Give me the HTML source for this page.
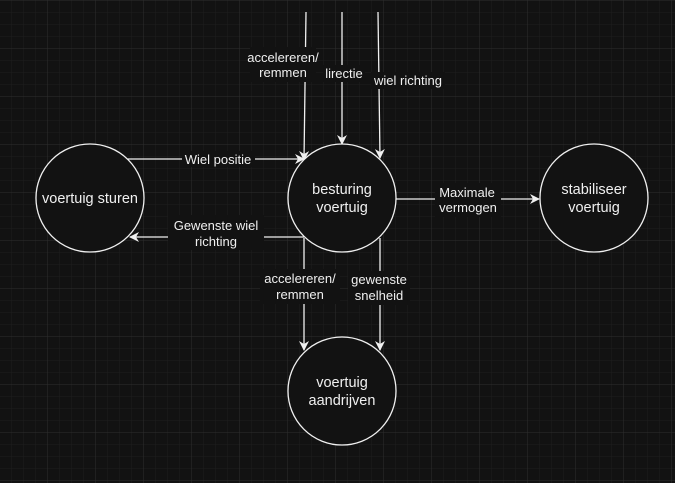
<!DOCTYPE html>
<html><head><meta charset="utf-8"><style>
html,body{margin:0;padding:0;background:#121212;}
svg{display:block;font-family:"Liberation Sans",Arial,sans-serif;}
</style></head><body>
<svg width="675" height="483" xmlns="http://www.w3.org/2000/svg">
<defs>
<pattern id="minor" width="12" height="12" patternUnits="userSpaceOnUse" x="-0.5" y="0.5">
<path d="M12 0V12M0 12H12" stroke="#1e1e1e" stroke-width="1" fill="none"/>
</pattern>
<pattern id="major" width="48" height="48" patternUnits="userSpaceOnUse" x="-0.5" y="0.5">
<path d="M48 0V48M0 48H48" stroke="#2e2e2e" stroke-width="1" fill="none"/>
</pattern>
<marker id="a" viewBox="0 0 10 10" refX="9" refY="5" markerWidth="10" markerHeight="10" markerUnits="userSpaceOnUse" orient="auto">
<path d="M0 0L10 5L0 10L3 5Z" fill="#f0f0f0"/>
</marker>
</defs>
<rect width="675" height="483" fill="#121212"/>
<rect width="675" height="483" fill="url(#minor)"/>
<rect width="675" height="483" fill="url(#major)"/>
<g stroke="#f0f0f0" stroke-width="1.3" fill="none">
<line x1="306" y1="12" x2="304" y2="160" marker-end="url(#a)"/>
<line x1="342" y1="12" x2="342" y2="144" marker-end="url(#a)"/>
<line x1="378" y1="12" x2="380" y2="158" marker-end="url(#a)"/>
<line x1="128" y1="159" x2="304" y2="159" marker-end="url(#a)"/>
<line x1="304" y1="237" x2="130" y2="237" marker-end="url(#a)"/>
<line x1="396" y1="199" x2="539" y2="199" marker-end="url(#a)"/>
<line x1="304" y1="238" x2="304" y2="350" marker-end="url(#a)"/>
<line x1="380" y1="238" x2="380" y2="350" marker-end="url(#a)"/>
</g>
<g fill="#121212" stroke="#f0f0f0" stroke-width="1.3">
<circle cx="90" cy="198" r="54"/>
<circle cx="342" cy="198" r="54"/>
<circle cx="594" cy="198" r="54"/>
<circle cx="342" cy="391" r="54"/>
</g>
<g fill="#121212">
<rect x="250" y="47" width="66" height="35"/>
<rect x="323" y="65" width="42" height="17"/>
<rect x="371" y="72" width="74" height="17"/>
<rect x="182" y="151" width="73" height="16"/>
<rect x="168" y="215" width="96" height="35"/>
<rect x="435" y="183" width="66" height="34"/>
<rect x="260" y="269" width="80" height="35"/>
<rect x="348" y="271" width="62" height="34"/>
</g>
<g fill="#f0f0f0" font-size="13" text-anchor="middle">
<text x="283" y="62">accelereren/</text>
<text x="283" y="77">remmen</text>
<text x="344" y="78">lirectie</text>
<text x="408" y="85">wiel richting</text>
<text x="218" y="164">Wiel positie</text>
<text x="216" y="230">Gewenste wiel</text>
<text x="216" y="246">richting</text>
<text x="467" y="197">Maximale</text>
<text x="468" y="212">vermogen</text>
<text x="300" y="283">accelereren/</text>
<text x="300" y="299">remmen</text>
<text x="379" y="284">gewenste</text>
<text x="379" y="300">snelheid</text>
</g>
<g fill="#f0f0f0" font-size="14.5" text-anchor="middle">
<text x="90" y="203">voertuig sturen</text>
<text x="342" y="194">besturing</text>
<text x="342" y="212">voertuig</text>
<text x="594" y="194">stabiliseer</text>
<text x="594" y="212">voertuig</text>
<text x="342" y="387">voertuig</text>
<text x="342" y="405">aandrijven</text>
</g>
</svg>
</body></html>
